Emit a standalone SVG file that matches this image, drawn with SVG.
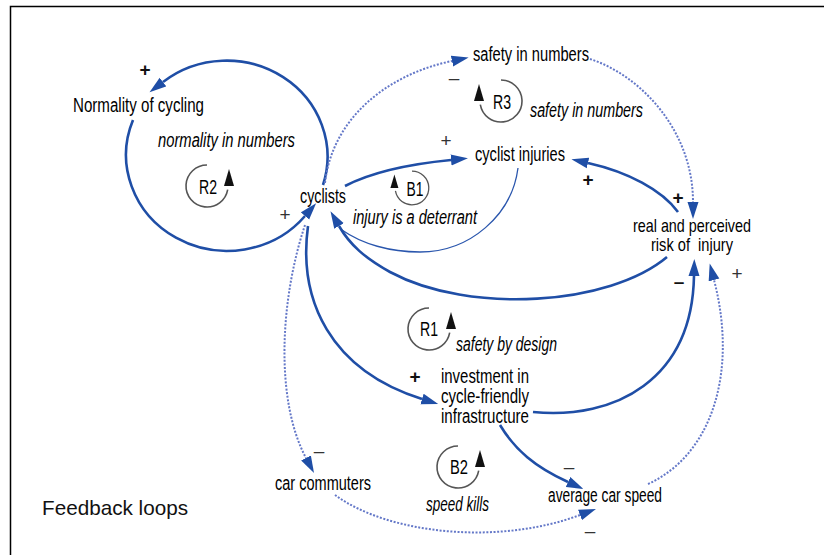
<svg xmlns="http://www.w3.org/2000/svg" xmlns:xlink="http://www.w3.org/1999/xlink" width="824" height="555" viewBox="0 0 824 555">
<style>
.lbl{font-family:"Liberation Sans Narrow","Liberation Sans",Arial,sans-serif;font-size:20px;fill:#000}
.sm{font-size:18.5px}
.it{font-style:italic}
.big{font-family:"Liberation Sans",Arial,sans-serif;font-size:21px;fill:#111}
.sg{font-family:"Liberation Sans",Arial,sans-serif;font-size:19px;fill:#333;text-anchor:middle}
.sb{font-family:"Liberation Sans",Arial,sans-serif;font-size:19px;font-weight:bold;fill:#111;text-anchor:middle}
.mid{text-anchor:middle}
.solid{fill:none;stroke:#1f4ea6;stroke-width:2.6;marker-end:url(#ah)}
.thin{fill:none;stroke:#2a56ad;stroke-width:1.3}
.dot{fill:none;stroke:#6478c8;stroke-width:2;stroke-dasharray:2 1.6;marker-end:url(#ah)}
.larc{fill:none;stroke:#555;stroke-width:1.6}
</style>
<defs>
<marker id="ah" markerUnits="userSpaceOnUse" markerWidth="18" markerHeight="12" refX="0" refY="5.5" orient="auto" viewBox="0 0 18 11">
<path d="M0,0 L17,5.5 L0,11 Z" fill="#1f4ea6"/>
</marker>
<g id="loop">
<path class="larc" d="M0,-21 A21,21 0 1 0 20.7,3.6"/>
<path d="M22,-17 L27,0 L17,0 Z" fill="#111"/>
</g>
</defs>
<rect x="0" y="0" width="824" height="555" fill="#fff"/>
<g id="frame" fill="none" stroke="#000" stroke-width="1.5">
<path d="M10.5,555 V6.5 H824"/>
</g>

<g id="connectors">
<!-- R2 loop -->
<path class="solid" d="M323,185 A101,96 0 0 0 163,82"/>
<path class="solid" d="M133,120 A101,96 0 0 0 305,216"/>
<!-- cyclists -> cyclist injuries -->
<path class="solid" d="M345,186 C372,172 410,164 451,160"/>
<!-- cyclist injuries -> cyclists (thin) -->
<path class="thin" d="M518,168 C512,215 470,252 420,252 C390,252 362,244 342,230"/>
<!-- real risk -> cyclist injuries -->
<path class="solid" d="M678,212 C662,190 628,172 588,163"/>
<!-- real risk -> cyclists -->
<path class="solid" d="M667,257 C610,305 470,315 390,272 C365,258 350,245 339,226"/>
<!-- cyclists -> investment -->
<path class="solid" d="M308,226 C298,300 330,370 422,399"/>
<!-- investment -> real risk -->
<path class="solid" d="M533,412 C615,420 692,380 694,276"/>
<!-- investment -> average car speed -->
<path class="solid" d="M500,425 C515,450 535,467 568,482"/>
<!-- average car speed -> real risk -->
<path class="dot" d="M648,484 C712,455 738,372 714,280"/>
<!-- cyclists -> safety in numbers -->
<path class="dot" d="M325,183 C332,120 385,75 452,61"/>
<!-- safety in numbers -> real risk -->
<path class="dot" d="M590,59 C640,75 693,130 693,202"/>
<!-- cyclists -> car commuters -->
<path class="dot" d="M305,225 C280,300 275,400 306,458"/>
<!-- car commuters -> average car speed -->
<path class="dot" d="M335,495 C390,535 500,545 580,515"/>
</g>

<g id="normality"><text class="lbl" x="73" y="112" textLength="131" lengthAdjust="spacingAndGlyphs">Normality of cycling</text></g>
<g id="cyclists"><text class="lbl" x="300" y="203" textLength="46" lengthAdjust="spacingAndGlyphs">cyclists</text></g>
<g id="safety"><text class="lbl" x="473" y="61" textLength="116" lengthAdjust="spacingAndGlyphs">safety in numbers</text></g>
<g id="injuries"><text class="lbl" x="475" y="161" textLength="90" lengthAdjust="spacingAndGlyphs">cyclist injuries</text></g>
<g id="risk">
<text class="lbl sm" x="633" y="232" textLength="118" lengthAdjust="spacingAndGlyphs">real and perceived</text>
<text class="lbl sm" x="651" y="251" textLength="82" lengthAdjust="spacingAndGlyphs" xml:space="preserve">risk of  injury</text>
</g>
<g id="investment">
<text class="lbl" x="441" y="383" textLength="88" lengthAdjust="spacingAndGlyphs">investment in</text>
<text class="lbl" x="441" y="403" textLength="88" lengthAdjust="spacingAndGlyphs">cycle-friendly</text>
<text class="lbl" x="441" y="423" textLength="88" lengthAdjust="spacingAndGlyphs">infrastructure</text>
</g>
<g id="carcommuters"><text class="lbl" x="275" y="490" textLength="96" lengthAdjust="spacingAndGlyphs">car commuters</text></g>
<g id="carspeed"><text class="lbl" x="548" y="502" textLength="114" lengthAdjust="spacingAndGlyphs">average car speed</text></g>

<g id="loopR2">
<use xlink:href="#loop" href="#loop" transform="translate(207,186)"/>
<text class="lbl mid" x="208" y="194" textLength="18" lengthAdjust="spacingAndGlyphs">R2</text>
<text class="lbl it" x="158" y="147" textLength="137" lengthAdjust="spacingAndGlyphs">normality in numbers</text>
</g>
<g id="loopR3">
<use xlink:href="#loop" href="#loop" transform="translate(501,101) scale(-1,1)"/>
<text class="lbl mid" x="502" y="109" textLength="18" lengthAdjust="spacingAndGlyphs">R3</text>
<text class="lbl it" x="530" y="117" textLength="113" lengthAdjust="spacingAndGlyphs">safety in numbers</text>
</g>
<g id="loopB1">
<use xlink:href="#loop" href="#loop" transform="translate(412,188) scale(-0.8,0.8)"/>
<text class="lbl mid" x="415" y="196" textLength="17" lengthAdjust="spacingAndGlyphs">B1</text>
<text class="lbl it" x="353" y="224" textLength="124" lengthAdjust="spacingAndGlyphs">injury is a deterrant</text>
</g>
<g id="loopR1">
<use xlink:href="#loop" href="#loop" transform="translate(429,329)"/>
<text class="lbl mid" x="429" y="336" textLength="18" lengthAdjust="spacingAndGlyphs">R1</text>
<text class="lbl it" x="456" y="351" textLength="101" lengthAdjust="spacingAndGlyphs">safety by design</text>
</g>
<g id="loopB2">
<use xlink:href="#loop" href="#loop" transform="translate(458,467)"/>
<text class="lbl mid" x="459" y="474" textLength="18" lengthAdjust="spacingAndGlyphs">B2</text>
<text class="lbl it" x="426" y="511" textLength="63" lengthAdjust="spacingAndGlyphs">speed kills</text>
</g>

<g id="signs">
<text class="sb" x="145" y="76">+</text>
<text class="sg" x="285" y="221">+</text>
<text class="sg" x="454" y="84">–</text>
<text class="sg" x="446" y="147">+</text>
<text class="sb" x="588" y="186">+</text>
<text class="sb" x="678" y="204">+</text>
<text class="sb" x="679" y="288">–</text>
<text class="sg" x="737" y="280">+</text>
<text class="sb" x="415" y="383">+</text>
<text class="sg" x="319" y="457">–</text>
<text class="sg" x="569" y="473">–</text>
<text class="sg" x="590" y="537">–</text>
</g>

<g id="title"><text class="big" x="42" y="515" textLength="146" lengthAdjust="spacingAndGlyphs">Feedback loops</text></g>
</svg>
